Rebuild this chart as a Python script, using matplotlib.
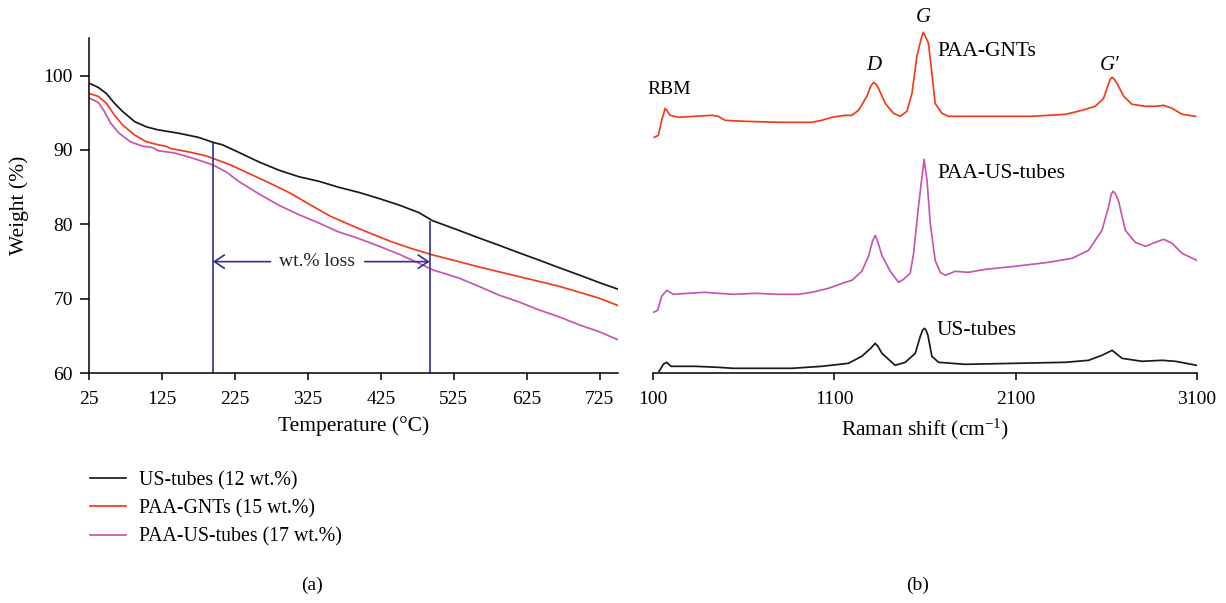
import matplotlib
matplotlib.use("Agg")
import matplotlib.pyplot as plt

plt.rcParams['font.family'] = ['Liberation Serif', 'DejaVu Serif']
plt.rcParams['mathtext.fontset'] = 'custom'
plt.rcParams['mathtext.rm'] = 'Liberation Serif'
plt.rcParams['mathtext.it'] = 'Liberation Serif:italic'

# ---------------- (a) TGA data ----------------
temp_us = [25, 38, 49, 60, 71, 88, 104, 120, 148, 175, 196, 208, 230, 258, 285, 313, 340, 367,
           395, 422, 450, 477, 496, 532, 559, 587, 614, 642, 669, 697, 724, 750]
wt_us = [99.0, 98.4, 97.6, 96.3, 95.2, 93.8, 93.1, 92.7, 92.25, 91.7, 91.0, 90.7, 89.7, 88.4, 87.3,
         86.4, 85.8, 85.0, 84.3, 83.5, 82.6, 81.6, 80.5, 79.2, 78.2, 77.2, 76.2, 75.2, 74.2, 73.2,
         72.2, 71.3]

temp_gnt = [25, 38, 49, 60, 71, 88, 104, 120, 131, 137, 164, 186, 197, 219, 241, 274, 301, 329,
            356, 384, 411, 439, 466, 496, 532, 559, 614, 669, 724, 750]
wt_gnt = [97.6, 97.2, 96.3, 94.7, 93.4, 92.0, 91.1, 90.7, 90.5, 90.2, 89.7, 89.2, 88.8, 88.0, 87.0,
          85.5, 84.2, 82.6, 81.1, 79.9, 78.8, 77.7, 76.8, 75.9, 75.0, 74.3, 73.0, 71.7, 70.1, 69.1]

temp_paa = [25, 38, 45, 55, 66, 82, 99, 109, 115, 120, 142, 164, 186, 197, 214, 230, 258, 285, 313,
            340, 367, 395, 422, 450, 477, 496, 532, 559, 587, 614, 642, 669, 697, 724, 750]
wt_paa = [97.0, 96.4, 95.4, 93.6, 92.3, 91.1, 90.5, 90.4, 90.2, 89.9, 89.6, 89.0, 88.3, 87.9, 87.0,
          85.8, 84.1, 82.6, 81.3, 80.2, 79.0, 78.1, 77.1, 76.0, 74.8, 73.9, 72.8, 71.7, 70.5, 69.6,
          68.5, 67.6, 66.5, 65.6, 64.5]

tga_labels = ['US-tubes (12 wt.%)', 'PAA-GNTs (15 wt.%)', 'PAA-US-tubes (17 wt.%)']
loss_start, loss_end = 195, 492
loss_top_start, loss_top_end = 90.95, 80.5
arrow_level = 75
temp_ticks = [25, 125, 225, 325, 425, 525, 625, 725]
wt_ticks = [60, 70, 80, 90, 100]

# ---------------- (b) Raman data ----------------
shift_gnt = [105, 128, 146, 165, 174, 192, 238, 330, 423, 459, 496, 606, 791, 975, 1030, 1086, 1159,
             1196, 1233, 1279, 1300, 1316, 1330, 1343, 1380, 1426, 1463, 1500, 1528, 1555, 1578,
             1590, 1602, 1619, 1638, 1656, 1693, 1730, 1914, 2190, 2375, 2467, 2540, 2586, 2610,
             2622, 2633, 2645, 2660, 2697, 2743, 2817, 2872, 2918, 2964, 3019, 3093]
int_gnt = [236, 238, 253, 265, 263, 258, 256, 257, 258, 257, 253, 252, 251, 251, 253, 256, 258,
           258, 263, 277, 287, 291, 289, 285, 270, 260, 257, 262, 280, 317, 334,
           341, 337, 330, 300, 270, 260, 257, 257, 257, 259, 263, 267, 275, 288,
           294, 296, 294, 290, 277, 269, 267, 267, 268, 265, 259, 257]

shift_paa = [100, 124, 146, 174, 210, 293, 386, 459, 542, 662, 791, 901, 975, 1067, 1159, 1196, 1251,
             1288, 1310, 1325, 1340, 1362, 1408, 1454, 1481, 1518, 1537, 1564, 1595, 1611, 1629,
             1656, 1684, 1712, 1767, 1840, 1933, 2098, 2282, 2412, 2503, 2577, 2614, 2628, 2638,
             2650, 2669, 2706, 2761, 2817, 2872, 2918, 2964, 3019, 3100]
int_paa = [61, 63, 77, 83, 79, 80, 81, 80, 79, 80, 79, 79, 81, 85, 91, 93, 102,
           117, 132, 138, 131, 118, 102, 91, 94, 100, 120, 167, 214, 193, 150,
           113, 101, 98, 102, 101, 104, 107, 111, 115, 123, 143, 167, 179, 182,
           180, 172, 143, 131, 127, 131, 134, 130, 120, 113]

shift_us = [132, 155, 174, 198, 330, 459, 542, 699, 865, 1030, 1177, 1251, 1300, 1325, 1340, 1362,
            1435, 1491, 1546, 1574, 1586, 1597, 1606, 1616, 1638, 1675, 1822, 2098, 2375, 2503,
            2577, 2633, 2688, 2798, 2909, 2983, 3100]
int_us = [2, 9, 11, 7, 7, 6, 5, 5, 5, 7, 10, 17, 25, 30, 27, 20,
          8, 11, 20, 37, 43, 45, 43, 38, 17, 11, 9, 10, 11, 13,
          18, 23, 15, 12, 13, 12, 8]

raman_ticks = [100, 1100, 2100, 3100]

C_BLACK = '#1a1a1a'
C_RED = '#f23d1c'
C_MAG = '#c855b0'
C_NAVY = '#2e3192'
FS_TICK = 14
FS_LAB = 15.5

fig = plt.figure(figsize=(12.26, 6.03), dpi=100)

# ---------- panel (a) ----------
ax1 = fig.add_axes([0.0724, 0.3809, 0.4317, 0.5556])
l1, = ax1.plot(temp_us, wt_us, color=C_BLACK, lw=1.25)
l2, = ax1.plot(temp_gnt, wt_gnt, color=C_RED, lw=1.25)
l3, = ax1.plot(temp_paa, wt_paa, color=C_MAG, lw=1.25)
ax1.set_xlim(25, 750)
ax1.set_ylim(60, 105)
ax1.set_xticks(temp_ticks)
ax1.set_yticks(wt_ticks)
for s in ['top', 'right']:
    ax1.spines[s].set_visible(False)
for s in ['left', 'bottom']:
    ax1.spines[s].set_linewidth(1.1)
ax1.tick_params(axis='y', direction='out', length=6.5, width=1.1, pad=5, labelsize=FS_TICK)
ax1.tick_params(axis='x', direction='out', length=5, width=1.1, pad=8, labelsize=FS_TICK)
ax1.set_xlabel('Temperature (°C)', fontsize=FS_LAB)
ax1.set_ylabel('Weight (%)', fontsize=FS_LAB)
ax1.xaxis.set_label_coords(0.5, -0.128)
ax1.yaxis.set_label_coords(-0.112, 0.5)

ax1.vlines([loss_start, loss_end], 60, [loss_top_start, loss_top_end], color=C_NAVY, lw=1.2)
ap = dict(arrowstyle='->,head_length=0.45,head_width=0.3', color=C_NAVY, lw=1.2,
          shrinkA=0, shrinkB=0, mutation_scale=16)
ax1.annotate('', xy=(loss_start, arrow_level), xytext=(274, arrow_level), arrowprops=ap)
ax1.annotate('', xy=(loss_end, arrow_level), xytext=(403, arrow_level), arrowprops=ap)
ax1.text(338, arrow_level, 'wt.% loss', ha='center', va='center', fontsize=14, color='#222222')

fig.legend([l1, l2, l3], tga_labels, loc='upper left', bbox_to_anchor=(0.0734, 0.219),
           frameon=False, fontsize=14.3, handlelength=1.81, handletextpad=0.65,
           labelspacing=0.45, borderpad=0, borderaxespad=0)

# ---------- panel (b) ----------
ax2 = fig.add_axes([0.5329, 0.3809, 0.4432, 0.6108])
ax2.plot(shift_gnt, int_gnt, color=C_RED, lw=1.25)
ax2.plot(shift_paa, int_paa, color=C_MAG, lw=1.25)
ax2.plot(shift_us, int_us, color=C_BLACK, lw=1.25)
ax2.set_xlim(100, 3100)
ax2.set_ylim(0, 368.3)
ax2.set_xticks(raman_ticks)
ax2.set_yticks([])
for s in ['top', 'right', 'left']:
    ax2.spines[s].set_visible(False)
ax2.spines['bottom'].set_linewidth(1.1)
ax2.tick_params(axis='x', direction='out', length=5, width=1.1, pad=8, labelsize=FS_TICK)
ax2.set_xlabel('Raman shift (cm$^{-1}$)', fontsize=FS_LAB)
ax2.xaxis.set_label_coords(0.5, -0.118)

ax2.text(187, 284, 'RBM', ha='center', va='center', fontsize=14)
ax2.text(1319, 308, 'D', ha='center', va='center', fontsize=15, style='italic')
ax2.text(1592, 356, 'G', ha='center', va='center', fontsize=15, style='italic')
ax2.text(2618, 308, 'G\u2032', ha='center', va='center', fontsize=15, style='italic')
ax2.text(1666, 322, 'PAA-GNTs', ha='left', va='center', fontsize=FS_LAB)
ax2.text(1666, 200, 'PAA-US-tubes', ha='left', va='center', fontsize=FS_LAB)
ax2.text(1666, 43, 'US-tubes', ha='left', va='center', fontsize=FS_LAB)

fig.text(312 / 1226, 1 - 585 / 603, '(a)', ha='center', va='center', fontsize=14)
fig.text(918 / 1226, 1 - 585 / 603, '(b)', ha='center', va='center', fontsize=14)

fig.savefig('out.png', dpi=100)
